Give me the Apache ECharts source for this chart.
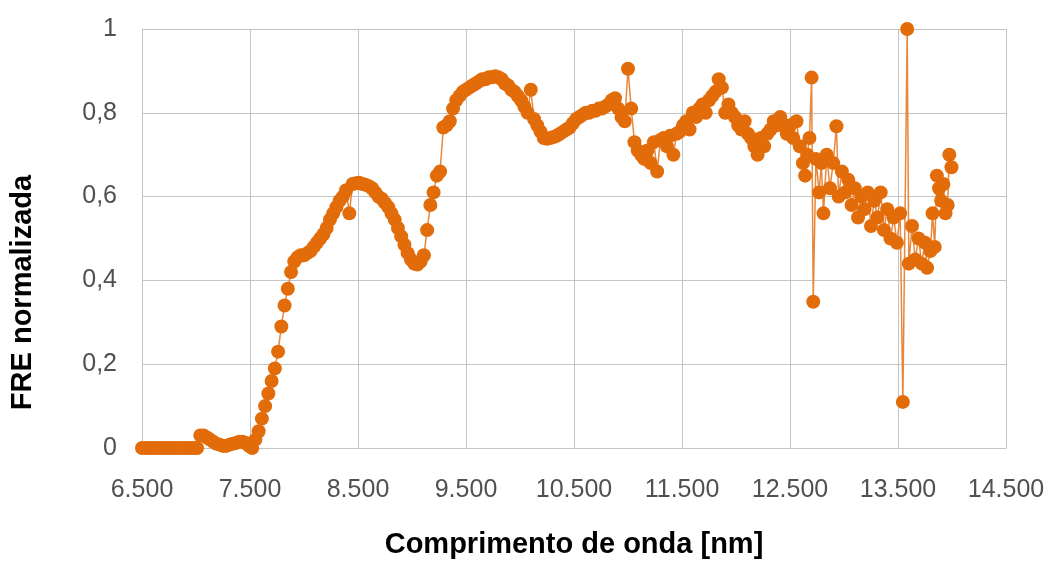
<!DOCTYPE html>
<html>
<head>
<meta charset="utf-8">
<script src="https://cdn.jsdelivr.net/npm/echarts@6/dist/echarts.min.js"></script>
<style>html,body{margin:0;padding:0;background:#fff}#c{width:1051px;height:561px}</style>
</head>
<body>
<div id="c"></div>
<script>
const wavelength = [6500,6530,6560,6590,6620,6650,6680,6710,6740,6770,6800,6830,6860,6890,6920,6950,6980,7010,
7040,7070,7100,7130,7160,7190,7220,7250,7280,7310,7340,7370,7400,7430,7460,7490,7520,7550,7580,7610,7640,7670,
7700,7730,7760,7790,7820,7850,7880,7910,7940,7970,8000,8030,8060,8090,8120,8150,8180,8210,8240,8270,
8300,8330,8360,8390,8420,8450,8480,8510,8540,8570,8600,8630,8660,8690,8720,8750,8780,8810,8840,8870,
8900,8930,8960,8990,9020,9050,9080,9110,9140,9170,9200,9230,9260,9290,9320,9350,9380,9410,9440,9470,
9500,9530,9560,9590,9620,9650,9680,9710,9740,9770,9800,9830,9860,9890,9920,9950,9980,10010,10040,10070,
10100,10130,10160,10190,10220,10250,10280,10310,10340,10370,10400,10430,10460,10490,10520,10550,10580,10610,10640,10670,
10700,10730,10760,10790,10820,10850,10880,10910,10940,10970,11000,11030,11060,11090,11120,11150,11180,11210,11240,11270,
11300,11330,11360,11390,11420,11450,11480,11510,11540,11570,11600,11630,11660,11690,11720,11750,11780,11810,11840,11870,
11900,11930,11960,11990,12020,12050,12080,12110,12140,12170,12200,12230,12260,12290,12320,12350,12380,12410,12440,12470,
12500,12530,12560,12590,12620,12640,12660,12680,12700,12715,12740,12770,12790,12810,12840,12870,12900,12930,12950,12980,
13010,13040,13070,13100,13130,13160,13190,13220,13250,13280,13310,13340,13370,13400,13430,13460,13490,13520,13545,13585,
13600,13630,13660,13690,13720,13750,13770,13800,13820,13840,13860,13880,13900,13920,13940,13960,13975,13995];

const freNormalizada = [0,0,0,0,0,0,0,0,0,0,0,0,0,0,0,0,0,0,
0.03,0.03,0.025,0.02,0.015,0.01,0.008,0.005,0.005,0.008,0.01,0.012,0.015,0.015,0.012,0.005,0,0.02,0.04,0.07,0.10,0.13,
0.16,0.19,0.23,0.29,0.34,0.38,0.42,0.445,0.455,0.46,0.46,0.465,0.47,0.48,0.49,0.50,0.51,0.525,0.545,0.56,
0.575,0.59,0.60,0.615,0.56,0.63,0.632,0.633,0.63,0.628,0.625,0.62,0.61,0.60,0.595,0.585,0.575,0.56,0.545,0.525,
0.505,0.485,0.465,0.45,0.44,0.438,0.445,0.46,0.52,0.58,0.61,0.65,0.66,0.765,0.77,0.78,0.81,0.83,0.84,0.85,
0.855,0.86,0.865,0.87,0.875,0.88,0.88,0.885,0.885,0.887,0.885,0.88,0.87,0.865,0.855,0.85,0.84,0.83,0.815,0.80,
0.855,0.785,0.77,0.755,0.74,0.738,0.74,0.742,0.745,0.75,0.755,0.76,0.765,0.775,0.785,0.79,0.795,0.80,0.80,0.805,
0.805,0.81,0.81,0.815,0.82,0.83,0.835,0.81,0.79,0.78,0.905,0.81,0.73,0.71,0.70,0.69,0.71,0.68,0.73,0.66,
0.735,0.74,0.72,0.745,0.70,0.75,0.755,0.77,0.78,0.76,0.80,0.79,0.81,0.82,0.80,0.83,0.84,0.85,0.88,0.86,
0.80,0.82,0.80,0.79,0.77,0.76,0.78,0.75,0.74,0.72,0.70,0.74,0.72,0.75,0.76,0.78,0.77,0.79,0.77,0.75,
0.77,0.74,0.78,0.72,0.68,0.65,0.70,0.74,0.884,0.349,0.69,0.61,0.68,0.56,0.70,0.62,0.68,0.768,0.60,0.66,
0.61,0.64,0.58,0.62,0.55,0.60,0.57,0.61,0.53,0.59,0.55,0.61,0.52,0.57,0.50,0.55,0.49,0.56,0.11,1.0,
0.44,0.53,0.45,0.50,0.44,0.49,0.43,0.47,0.56,0.48,0.65,0.62,0.59,0.63,0.56,0.58,0.70,0.67];

const xAxisTitle = 'Comprimento de onda [nm]';
const yAxisTitle = 'FRE normalizada';

const points = wavelength.map((w, i) => [w, freNormalizada[i]]);

const chart = echarts.init(document.getElementById('c'), null, {renderer: 'canvas'});
chart.setOption({
  animation: false,
  backgroundColor: '#fff',
  grid: {left: 142, right: 45, top: 29, bottom: 113, containLabel: false, outerBoundsMode: 'none'},
  xAxis: {
    type: 'value', min: 6500, max: 14500, interval: 1000,
    name: xAxisTitle, nameLocation: 'middle', nameGap: 82,
    nameTextStyle: {fontFamily: 'Liberation Sans', fontSize: 29, fontWeight: 'bold', color: '#000'},
    axisLine: {show: true, lineStyle: {color: '#c4c4c4', width: 1}},
    axisTick: {show: false},
    splitLine: {show: true, lineStyle: {color: '#c4c4c4', width: 1}},
    axisLabel: {
      margin: 30, fontFamily: 'Liberation Sans', fontSize: 25, color: '#505050',
      formatter: v => String(v).replace(/\B(?=(\d{3})+(?!\d))/g, '.')
    }
  },
  yAxis: {
    type: 'value', min: 0, max: 1, interval: 0.2,
    name: yAxisTitle, nameLocation: 'middle', nameGap: 105, nameRotate: 90,
    nameTextStyle: {fontFamily: 'Liberation Sans', fontSize: 29, fontWeight: 'bold', color: '#000', padding: [0, 108, 0, 0]},
    axisLine: {show: true, lineStyle: {color: '#c4c4c4', width: 1}},
    axisTick: {show: false},
    splitLine: {show: true, lineStyle: {color: '#c4c4c4', width: 1}},
    axisLabel: {
      margin: 25, fontFamily: 'Liberation Sans', fontSize: 25, color: '#505050',
      formatter: v => String(Math.round(v * 10) / 10).replace('.', ',')
    }
  },
  series: [{
    type: 'line',
    data: points,
    symbol: 'circle',
    symbolSize: 14,
    showSymbol: true,
    itemStyle: {color: '#e36c0a', borderWidth: 0},
    lineStyle: {color: '#e8883c', width: 1.5},
    clip: false
  }]
});
</script>
</body>
</html>
